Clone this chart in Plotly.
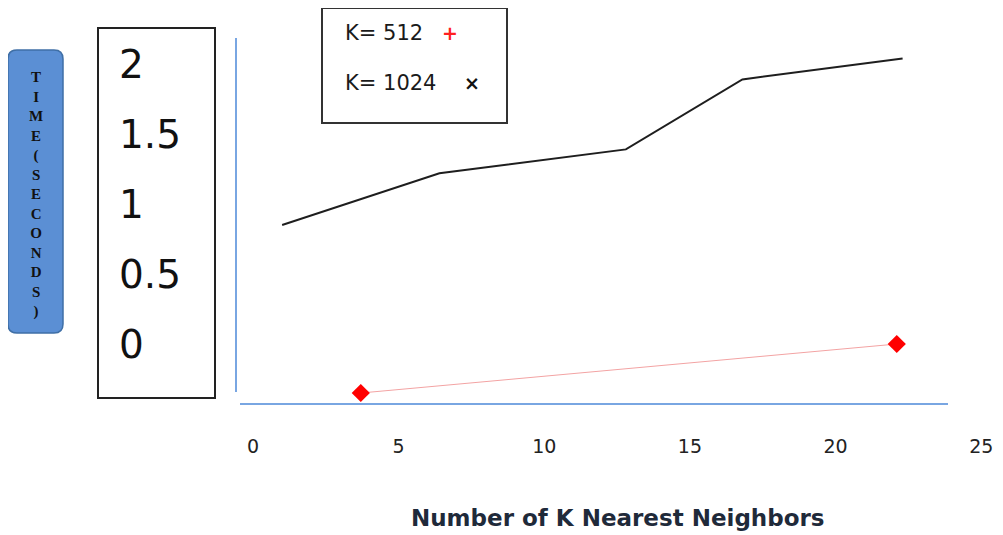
import plotly.graph_objects as go

# ---------------- data ----------------
k_1024 = [1.0, 6.4, 12.8, 16.8, 22.3]
time_1024 = [0.85, 1.22, 1.39, 1.89, 2.04]
k_512 = [3.7, 22.1]
time_512 = [-0.35, 0.0]
x_tick_vals = [0, 5, 10, 15, 20, 25]
y_tick_vals = [0, 0.5, 1, 1.5, 2]
y_tick_text = ["0", "0.5", "1", "1.5", "2"]
legend_labels = ["K= 512", "K= 1024"]
legend_symbols = ["+", "×"]
x_title = "Number of K Nearest Neighbors"
y_title = "TIME(SECONDS)"

# page has an 8px body margin: figure drawn at (8, 8)
OFF = 8
W, H = 1003 - OFF, 535 - OFF


def fx(px):
    return (px - OFF) / W


def fy(py):
    return 1 - (py - OFF) / H


BLUE_AXIS = "#79a6e2"
FONT = "DejaVu Sans"

fig = go.Figure()
fig.add_trace(go.Scatter(
    x=k_1024, y=time_1024, mode="lines",
    line=dict(color="#1e1e1e", width=2), name=legend_labels[1],
))
fig.add_trace(go.Scatter(
    x=k_512, y=time_512, mode="lines+markers",
    line=dict(color="#f3a3a3", width=1),
    marker=dict(symbol="diamond", size=14, color="#ff0000"),
    name=legend_labels[0],
))
# empty traces so that the two axis-line subplots are drawn
fig.add_trace(go.Scatter(x=[], y=[], xaxis="x2", yaxis="y", showlegend=False))
fig.add_trace(go.Scatter(x=[], y=[], xaxis="x", yaxis="y2", showlegend=False))

shapes = []
# box around y tick labels
shapes.append(dict(type="rect", xref="paper", yref="paper",
                   x0=fx(98), x1=fx(215), y0=fy(398), y1=fy(28),
                   line=dict(color="#222", width=2), fillcolor="rgba(0,0,0,0)"))
# legend box
shapes.append(dict(type="rect", xref="paper", yref="paper",
                   x0=fx(322), x1=fx(507), y0=fy(123), y1=fy(8),
                   line=dict(color="#333", width=2), fillcolor="rgba(0,0,0,0)"))
# rounded y-title box
x0, x1, y0, y1, r = 8, 63, 50, 333, 9
pts = (
    f"M {fx(x0 + r)} {fy(y0)} L {fx(x1 - r)} {fy(y0)} "
    f"Q {fx(x1)} {fy(y0)} {fx(x1)} {fy(y0 + r)} "
    f"L {fx(x1)} {fy(y1 - r)} Q {fx(x1)} {fy(y1)} {fx(x1 - r)} {fy(y1)} "
    f"L {fx(x0 + r)} {fy(y1)} Q {fx(x0)} {fy(y1)} {fx(x0)} {fy(y1 - r)} "
    f"L {fx(x0)} {fy(y0 + r)} Q {fx(x0)} {fy(y0)} {fx(x0 + r)} {fy(y0)} Z"
)
shapes.append(dict(type="path", xref="paper", yref="paper", path=pts,
                   line=dict(color="#3f6fa6", width=1.5), fillcolor="#5b8fd4",
                   layer="below"))

annotations = []
annotations.append(dict(
    xref="paper", yref="paper", x=fx(35.5), y=fy(194),
    text="<br>".join(list(y_title)), showarrow=False,
    font=dict(family="Liberation Serif", size=15, color="#111", weight="bold"),
    xanchor="center", yanchor="middle",
))
leg_y = [33, 83]
sym_x = [450, 472]
sym_col = ["#ff2020", "#111"]
for i in range(2):
    annotations.append(dict(
        xref="paper", yref="paper", x=fx(343), y=fy(leg_y[i]),
        text=legend_labels[i], showarrow=False, xanchor="left", yanchor="middle",
        font=dict(family=FONT, size=21, color="#1a1a1a"),
    ))
    annotations.append(dict(
        xref="paper", yref="paper", x=fx(sym_x[i]), y=fy(leg_y[i]),
        text="<b>" + legend_symbols[i] + "</b>", showarrow=False,
        xanchor="center", yanchor="middle",
        font=dict(family=FONT, size=19, color=sym_col[i]),
    ))
annotations.append(dict(
    xref="paper", yref="paper", x=fx(618), y=fy(518),
    text=x_title, showarrow=False, xanchor="center", yanchor="middle",
    font=dict(family=FONT, size=23, color="#1f2a3a", weight="bold"),
))

# pixel mapping: x px = 253 + 29.13*x ; y px = 344 - 140*y
xr = [(237 - 253) / 29.13, (995 - 253) / 29.13]
yr = [(344 - 403) / 140, (344 - 40) / 140]

fig.update_layout(
    width=W, height=H, autosize=False,
    margin=dict(l=0, r=0, t=0, b=0),
    paper_bgcolor="white", plot_bgcolor="rgba(0,0,0,0)",
    showlegend=False,
    shapes=shapes, annotations=annotations,
    xaxis=dict(domain=[fx(237), fx(995)], range=xr, anchor="y",
               showline=False, showgrid=False, zeroline=False,
               tickvals=x_tick_vals, ticks="", ticklabelstandoff=30,
               tickfont=dict(family=FONT, size=19, color="#222")),
    xaxis2=dict(domain=[fx(240), fx(948)], range=[0, 1], anchor="y",
                showline=True, linecolor=BLUE_AXIS, linewidth=2,
                showgrid=False, zeroline=False, showticklabels=False, ticks=""),
    yaxis=dict(domain=[fy(403), fy(40)], range=yr, anchor="free",
               position=fx(118), side="right",
               showline=False, showgrid=False, zeroline=False,
               tickvals=y_tick_vals, ticktext=y_tick_text, ticks="",
               ticklabelstandoff=0,
               tickfont=dict(family=FONT, size=39, color="#111")),
    yaxis2=dict(domain=[fy(392), fy(38)], range=[0, 1], anchor="x",
                showline=True, linecolor=BLUE_AXIS, linewidth=2,
                showgrid=False, zeroline=False, showticklabels=False, ticks=""),
)

fig.write_html("out.html")
